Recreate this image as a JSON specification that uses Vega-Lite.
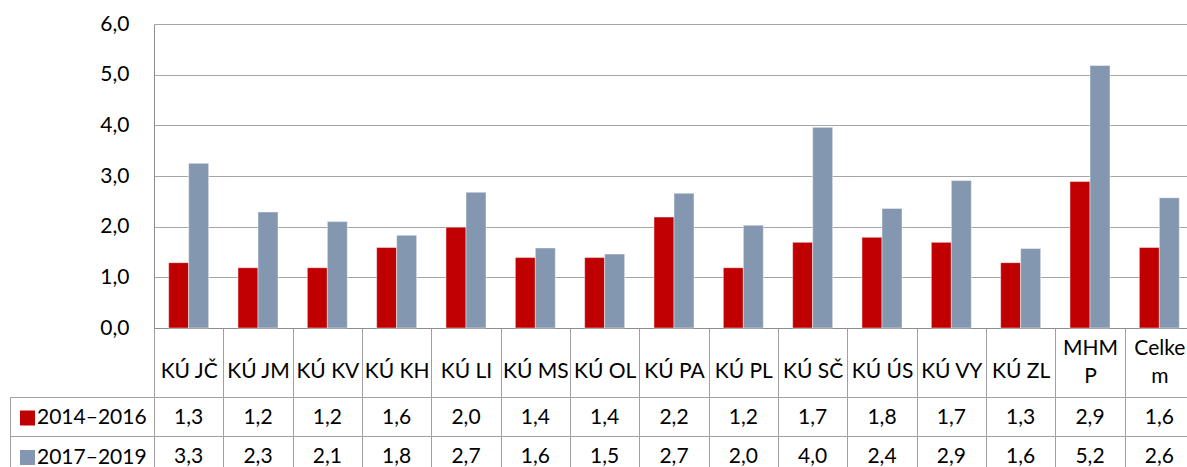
{
  "$schema": "https://vega.github.io/schema/vega-lite/v6.json",
  "padding": {"left": 9, "top": 13, "right": 0, "bottom": 0},
  "autosize": {"type": "pad"},
  "background": "white",
  "bounds": "flush",
  "config": {
    "locale": {"number": {"decimal": ",", "thousands": " ", "grouping": [3], "currency": ["", " Kč"]}},
    "font": "Lato",
    "view": {"stroke": null},
    "axis": {"labelFont": "Lato", "labelColor": "#000000", "labelFontSize": 21}
  },
  "data": {"values": [
    {"region": "KÚ JČ", "series": "2014–2016", "value": 1.29},
    {"region": "KÚ JČ", "series": "2017–2019", "value": 3.25},
    {"region": "KÚ JM", "series": "2014–2016", "value": 1.19},
    {"region": "KÚ JM", "series": "2017–2019", "value": 2.29},
    {"region": "KÚ KV", "series": "2014–2016", "value": 1.19},
    {"region": "KÚ KV", "series": "2017–2019", "value": 2.1},
    {"region": "KÚ KH", "series": "2014–2016", "value": 1.59},
    {"region": "KÚ KH", "series": "2017–2019", "value": 1.83},
    {"region": "KÚ LI", "series": "2014–2016", "value": 1.99},
    {"region": "KÚ LI", "series": "2017–2019", "value": 2.68},
    {"region": "KÚ MS", "series": "2014–2016", "value": 1.39},
    {"region": "KÚ MS", "series": "2017–2019", "value": 1.58},
    {"region": "KÚ OL", "series": "2014–2016", "value": 1.39},
    {"region": "KÚ OL", "series": "2017–2019", "value": 1.46},
    {"region": "KÚ PA", "series": "2014–2016", "value": 2.19},
    {"region": "KÚ PA", "series": "2017–2019", "value": 2.66},
    {"region": "KÚ PL", "series": "2014–2016", "value": 1.19},
    {"region": "KÚ PL", "series": "2017–2019", "value": 2.03},
    {"region": "KÚ SČ", "series": "2014–2016", "value": 1.69},
    {"region": "KÚ SČ", "series": "2017–2019", "value": 3.96},
    {"region": "KÚ ÚS", "series": "2014–2016", "value": 1.79},
    {"region": "KÚ ÚS", "series": "2017–2019", "value": 2.36},
    {"region": "KÚ VY", "series": "2014–2016", "value": 1.69},
    {"region": "KÚ VY", "series": "2017–2019", "value": 2.91},
    {"region": "KÚ ZL", "series": "2014–2016", "value": 1.29},
    {"region": "KÚ ZL", "series": "2017–2019", "value": 1.57},
    {"region": "MHMP", "series": "2014–2016", "value": 2.89},
    {"region": "MHMP", "series": "2017–2019", "value": 5.18},
    {"region": "Celkem", "series": "2014–2016", "value": 1.59},
    {"region": "Celkem", "series": "2017–2019", "value": 2.57}
  ]},
  "spacing": 69,
  "vconcat": [
    {
      "width": 1040,
      "height": 304,
      "mark": {"type": "bar", "stroke": "#ffffff", "strokeOpacity": 0.45, "strokeWidth": 1},
      "encoding": {
        "x": {
          "field": "region", "type": "nominal", "sort": null,
          "scale": {"paddingInner": 0, "paddingOuter": 0},
          "axis": {
            "title": null, "labelAngle": 0, "tickBand": "extent", "tickSize": 69,
            "tickColor": "#a0a0a0", "domainColor": "#8c8c8c", "grid": false,
            "labelBaseline": "middle", "labelLineHeight": 28,
            "labelPadding": {"condition": {"test": "datum.value == 'MHMP' || datum.value == 'Celkem'", "value": -49}, "value": -26},
            "labelExpr": "datum.value == 'MHMP' ? ['MHM', 'P'] : datum.value == 'Celkem' ? ['Celke', 'm'] : datum.value"
          }
        },
        "xOffset": {
          "field": "series", "type": "nominal",
          "scale": {"paddingInner": 0, "paddingOuter": 0.733}
        },
        "y": {
          "field": "value", "type": "quantitative",
          "scale": {"domain": [0, 6], "nice": false},
          "axis": {
            "title": null, "values": [0, 1, 2, 3, 4, 5, 6], "format": ".1f",
            "grid": true, "gridColor": "#a6a6a6", "ticks": false,
            "labelPadding": 25, "domainColor": "#8c8c8c"
          }
        },
        "color": {
          "field": "series", "type": "nominal",
          "scale": {"domain": ["2014–2016", "2017–2019"], "range": ["#C00000", "#8497B0"]},
          "legend": {
            "orient": "none", "legendX": -137, "legendY": 383.5, "title": null,
            "symbolType": "square", "symbolSize": 225, "symbolStrokeWidth": 0,
            "labelFontSize": 21, "labelFont": "Lato", "labelColor": "#000000",
            "rowPadding": 17.5, "labelOffset": -1, "padding": 0
          }
        }
      }
    },
    {
      "width": 1040,
      "height": 77,
      "view": {"stroke": "#a0a0a0"},
      "mark": {"type": "text", "fontSize": 21, "font": "Lato", "color": "#000000", "dy": 2},
      "encoding": {
        "x": {
          "field": "region", "type": "nominal", "sort": null,
          "scale": {"paddingInner": 0, "paddingOuter": 0},
          "axis": {"labels": false, "ticks": false, "domain": false, "title": null, "grid": true, "tickBand": "extent", "gridColor": "#a0a0a0"}
        },
        "y": {
          "field": "series", "type": "nominal",
          "scale": {"domain": ["2014–2016", "2017–2019"], "paddingInner": 0, "paddingOuter": 0},
          "axis": {"labels": false, "title": null, "grid": true, "tickBand": "extent", "gridColor": "#a0a0a0", "offset": 144, "tickSize": -144, "tickColor": "#a0a0a0", "domainColor": "#a0a0a0"}
        },
        "text": {"field": "value", "type": "quantitative", "format": ".1f"}
      }
    }
  ]
}
